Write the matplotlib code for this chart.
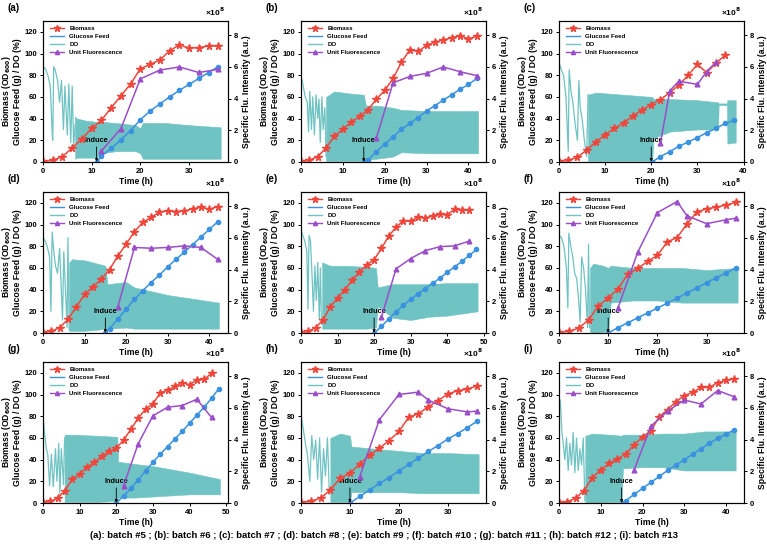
import numpy as np
import matplotlib
matplotlib.use("Agg")
import matplotlib.pyplot as plt
from matplotlib.lines import Line2D

plt.rcParams['font.family'] = ['Liberation Sans', 'DejaVu Sans']
plt.rcParams['font.weight'] = 'bold'
plt.rcParams['axes.labelweight'] = 'bold'
plt.rcParams['axes.linewidth'] = 0.8

# ---- data read off the figure (biomass sampled every 2 h) ----
# (a) batch #5
bio_a = [0.5, 1.5, 5, 13, 21.5, 31, 38.5, 50, 61, 72, 86, 90, 94, 102.5, 108, 105, 105.5, 107, 107]
glu_t_a = [11, 12, 14, 16, 18, 20, 22, 24, 26, 28, 30, 32, 34, 36]
glu_a = [0, 5.5, 12.5, 20.5, 29, 39, 47, 53.5, 60, 66, 71.5, 77, 82.5, 88]
flu_t_a = [12, 16, 20, 24, 28, 32, 36]
flu_a = [0.7, 2.1, 5.25, 5.8, 6.0, 5.65, 5.85]
do_t_a = [0, 0.5, 1.0, 1.5, 1.9, 2.0, 2.2, 2.5, 3.0, 3.4, 3.8, 4.2, 4.5, 5.0, 5.3, 5.7, 6.0, 6.3, 6.6]
do_a = [88, 86, 80, 70, 25, 20, 88, 85, 75, 55, 75, 30, 70, 25, 72, 18, 70, 15, 35]
band_t_a = [6.6, 7, 9, 11, 12, 15, 19, 20, 20.5, 25, 30, 36.5]
band_lo_a = [3, 4, 4, 4, 8, 10, 10, 8, 3, 3, 3, 3]
band_hi_a = [42, 40, 38, 37, 37, 36, 34, 31, 36, 36, 34, 32]

# (b) batch #6
bio_b = [0.5, 1.5, 5, 13, 24, 30, 37, 42, 48, 58, 66, 77, 92, 103.5, 102, 107.5, 110.5, 112.5, 114.5, 116.5, 113.5, 116]
glu_t_b = [15, 16, 18, 20, 22, 24, 26, 28, 30, 32, 34, 36, 38, 40, 42]
glu_b = [0, 2, 9.5, 16.5, 23, 30, 35.5, 41, 47, 52, 57, 62, 67, 71.5, 77]
flu_t_b = [18, 22, 26, 30, 34, 38, 42]
flu_b = [1.5, 5.0, 5.4, 5.6, 6.0, 5.7, 5.45]
do_t_b = [0, 0.3, 1.0, 1.5, 1.8, 2.1, 2.5, 2.8, 3.2, 3.6, 4.0, 4.3, 4.6, 5.0, 5.3, 5.7, 6.0]
do_b = [78, 75, 60, 55, 28, 65, 30, 60, 25, 62, 40, 58, 18, 60, 30, 50, 5]
band_t_b = [6.0, 8, 12, 15, 15.5, 18, 22, 24, 30, 42.3]
band_lo_b = [1, 1, 1, 1, 2, 3, 5, 9, 8, 8]
band_hi_b = [60, 65, 63, 62, 52, 52, 50, 48, 47, 47]

# (c) batch #7
bio_c = [0.5, 1.5, 4.5, 11, 18.5, 25, 31, 36, 42.5, 48, 53, 57.5, 64, 71, 80, 90, 82.5, 91, 98.5]
glu_t_c = [20.2, 22, 24, 26, 28, 30, 32, 34, 36, 38]
glu_c = [0, 5, 9.5, 14.5, 18.5, 22.5, 27, 31, 35.5, 38.5]
flu_t_c = [22, 24, 26, 30, 32, 34]
flu_c = [1.2, 4.5, 5.1, 4.9, 5.7, 6.3]
do_t_c = [0, 0.5, 1.0, 1.5, 2.0, 2.2, 2.6, 3.0, 3.5, 4.0, 4.3, 4.6, 5.0, 5.5, 6.0, 6.3]
do_c = [92, 85, 80, 60, 10, 85, 65, 55, 35, 20, 75, 50, 40, 20, 5, 62]
band_t_c = [6.3, 8, 14, 20.2, 20.5, 24, 30, 34.5, 34.6, 36.4, 36.5, 38.3]
band_lo_c = [1, 1, 1, 1, 22, 28, 30, 30, 52.5, 52.5, 17, 18]
band_hi_c = [62, 64, 62, 60, 58, 58, 57, 55, 54, 54, 57, 57]

# (d) batch #8
bio_d = [0.5, 1.5, 5, 12.5, 24, 35.5, 42.5, 49.5, 58.5, 71, 82, 93.5, 102, 106.5, 111.5, 112.5, 112, 112.5, 114.5, 116, 114, 116.5]
glu_t_d = [15, 16, 18, 20, 22, 24, 26, 28, 30, 32, 34, 36, 38, 40, 42]
glu_d = [0, 4, 13, 22, 31, 39, 46.5, 53.5, 61, 68, 74.5, 81.5, 88.5, 95.5, 102.5]
flu_t_d = [18, 22, 26, 30, 34, 38, 42]
flu_d = [1.65, 5.4, 5.35, 5.4, 5.5, 5.4, 4.65]
do_t_d = [0, 0.5, 1.0, 1.6, 1.9, 2.2, 2.6, 3.0, 3.5, 4.0, 4.4, 4.7, 5.0, 5.4, 5.8, 6.0, 6.3]
do_d = [88, 85, 80, 70, 20, 93, 75, 62, 55, 78, 40, 12, 75, 40, 5, 88, 3]
band_t_d = [6.3, 7, 10, 13, 15, 15.5, 20, 22, 30, 42.3]
band_lo_d = [2, 2, 2, 3, 4, 4, 5, 4, 4, 4]
band_hi_d = [65, 68, 67, 64, 62, 45, 47, 42, 35, 28]

# (e) batch #9
bio_e = [0.5, 1.5, 5, 12, 24, 32.5, 40, 48.5, 56.5, 63, 67.5, 78, 89.5, 97.5, 103.5, 103, 107, 106, 108, 110, 109, 114, 113.5, 113.5]
glu_t_e = [20, 22, 24, 26, 28, 30, 32, 34, 36, 38, 40, 42, 44, 46, 48]
glu_e = [0, 6, 13, 19.5, 25.5, 31, 36, 41, 46, 50.5, 56, 61, 66, 71.5, 77]
flu_t_e = [22, 26, 30, 34, 38, 42, 46]
flu_e = [1.0, 4.05, 4.7, 5.2, 5.45, 5.5, 5.8]
do_t_e = [0, 0.3, 1.0, 1.6, 1.9, 2.2, 2.6, 3.0, 3.4, 3.8, 4.2, 4.6, 5.0, 5.3, 5.6]
do_e = [95, 92, 85, 75, 22, 90, 85, 55, 20, 62, 30, 65, 12, 60, 8]
band_t_e = [5.8, 8, 12, 18, 20.5, 21, 25, 30, 35, 40, 48.3]
band_lo_e = [4, 4, 4, 4, 5, 25, 14, 12, 15, 16, 20]
band_hi_e = [65, 62, 62, 61, 60, 42, 45, 45, 45, 46, 46]

# (f) batch #10
bio_f = [0.5, 1.5, 4.5, 12, 25, 32.5, 40.5, 54.5, 59.5, 66, 71.5, 84, 88, 100.5, 111.5, 114.5, 116, 118, 120.5]
glu_t_f = [10, 12, 14, 16, 18, 20, 22, 24, 26, 28, 30, 32, 34, 36]
glu_f = [0, 5, 9.5, 14, 18.5, 23, 27.5, 32, 37, 41.5, 46.5, 51, 55.5, 60]
flu_t_f = [12, 16, 20, 24, 26, 30, 34, 36]
flu_f = [1.6, 5.1, 7.6, 8.3, 7.4, 6.9, 7.15, 7.25]
do_t_f = [0, 0.5, 1.0, 1.5, 1.8, 2.0, 2.4, 2.8, 3.2, 3.6, 4.0, 4.3, 4.6, 5.0, 5.4, 5.8, 6.0, 6.2]
do_f = [90, 88, 80, 60, 23, 92, 80, 70, 55, 50, 30, 10, 70, 60, 40, 5, 82, 5]
band_t_f = [6.3, 7, 9, 10, 10.5, 15, 20, 25, 30, 36.3]
band_lo_f = [1, 0, 1, 2, 28, 30, 30, 28, 28, 28]
band_hi_f = [60, 64, 62, 60, 62, 60, 60, 60, 58, 60]

# (g) batch #11
bio_g = [0.5, 1.5, 4.5, 11.5, 22, 27, 33, 37.5, 43, 47.5, 50.5, 58, 68, 78.5, 86.5, 91.5, 101.5, 104, 107.5, 111, 109, 113.5, 114, 119.5]
glu_t_g = [20, 22, 24, 26, 28, 30, 32, 34, 36, 38, 40, 42, 44, 46, 48]
glu_g = [0, 6.5, 13.5, 21.5, 29.5, 37.5, 45, 52, 59, 66, 73.5, 81, 88.5, 96.5, 105.5]
flu_t_g = [22, 26, 30, 34, 38, 42, 46]
flu_g = [1.1, 3.75, 5.5, 6.05, 6.15, 6.55, 5.4]
do_t_g = [0, 0.4, 0.9, 1.3, 1.8, 2.3, 2.8, 3.4, 3.8, 4.3, 4.6, 5.0, 5.6, 5.9]
do_g = [80, 65, 50, 45, 16, 45, 15, 50, 20, 55, 8, 50, 17, 60]
band_t_g = [5.9, 8, 15, 20.3, 20.5, 25, 30, 40, 48.3]
band_lo_g = [1, 1, 1, 2, 5, 5, 6, 8, 8]
band_hi_g = [63, 63, 62, 61, 38, 36, 34, 28, 22]

# (h) batch #12
bio_h = [0.5, 1.5, 4.5, 12, 23, 27.5, 36, 44, 50.5, 57.5, 66, 79, 82.5, 88.5, 94.5, 100.5, 103.5, 105, 108]
glu_t_h = [10, 12, 14, 16, 18, 20, 22, 24, 26, 28, 30, 32, 34, 36]
glu_h = [0, 6, 12, 18, 23.5, 29.5, 35.5, 41.5, 47.5, 53, 59, 64, 69.5, 75.5]
flu_t_h = [12, 16, 20, 24, 26, 30, 34, 36]
flu_h = [1.65, 5.25, 6.85, 7.0, 6.5, 5.95, 5.75, 5.8]
do_t_h = [0, 0.4, 0.9, 1.3, 1.8, 2.2, 2.6, 3.0, 3.4, 3.8, 4.2, 4.6, 5.0, 5.4, 5.8]
do_h = [80, 70, 55, 45, 20, 62, 40, 58, 22, 60, 10, 50, 25, 60, 8]
band_t_h = [6.0, 8, 10, 10.3, 15, 20, 25, 30, 36.3]
band_lo_h = [1, 1, 1, 10, 10, 10, 9, 9, 9]
band_hi_h = [60, 64, 62, 52, 50, 48, 46, 46, 45]

# (i) batch #13
bio_i = [0.5, 1, 4.5, 11.5, 23.5, 30.5, 36.5, 40.5, 45.5, 53.5, 61, 66.5, 79.5, 86, 93.5, 99, 102, 106.5, 106.5, 111, 113, 114.5]
glu_t_i = [15, 16, 18, 20, 22, 24, 26, 28, 30, 32, 34, 36, 38, 40, 42]
glu_i = [0, 2, 8, 13.5, 19, 24.5, 30, 35, 40, 45, 50, 55, 59.5, 63.5, 67.5]
flu_t_i = [18, 22, 26, 30, 34, 38, 42]
flu_i = [2.1, 4.85, 5.8, 6.5, 6.25, 7.1, 6.7]
do_t_i = [0, 0.3, 0.7, 1.0, 1.4, 1.8, 2.2, 2.6, 3.0, 3.4, 3.8, 4.2, 4.6, 5.0, 5.4, 5.8, 6.2]
do_i = [85, 95, 65, 55, 40, 60, 30, 55, 35, 65, 28, 60, 30, 50, 35, 60, 2]
band_t_i = [6.3, 8, 12, 15, 15.3, 20, 25, 30, 35, 42.3]
band_lo_i = [1, 0, 1, 1, 32, 33, 33, 30, 30, 30]
band_hi_i = [62, 64, 63, 62, 63, 63, 64, 64, 66, 66]

labels = ['(a)', '(b)', '(c)', '(d)', '(e)', '(f)', '(g)', '(h)', '(i)']
induce = [11, 15, 20, 15, 20, 10, 20, 10, 15]
xmax = [38, 44.2, 40.1, 44.5, 50.6, 37.6, 50.5, 37.8, 44.3]
xticks = [[0, 10, 20, 30], [0, 10, 20, 30, 40], [0, 10, 20, 30, 40],
          [0, 10, 20, 30, 40], [0, 10, 20, 30, 40, 50], [0, 10, 20, 30],
          [0, 10, 20, 30, 40, 50], [0, 10, 20, 30], [0, 10, 20, 30, 40]]
caption = ("(a): batch #5 ; (b): batch #6 ; (c): batch #7 ; (d): batch #8 ; (e): batch #9 ; "
           "(f): batch #10 ; (g): batch #11 ; (h): batch #12 ; (i): batch #13")

panels = [
    (bio_a, glu_t_a, glu_a, flu_t_a, flu_a, do_t_a, do_a, band_t_a, band_lo_a, band_hi_a),
    (bio_b, glu_t_b, glu_b, flu_t_b, flu_b, do_t_b, do_b, band_t_b, band_lo_b, band_hi_b),
    (bio_c, glu_t_c, glu_c, flu_t_c, flu_c, do_t_c, do_c, band_t_c, band_lo_c, band_hi_c),
    (bio_d, glu_t_d, glu_d, flu_t_d, flu_d, do_t_d, do_d, band_t_d, band_lo_d, band_hi_d),
    (bio_e, glu_t_e, glu_e, flu_t_e, flu_e, do_t_e, do_e, band_t_e, band_lo_e, band_hi_e),
    (bio_f, glu_t_f, glu_f, flu_t_f, flu_f, do_t_f, do_f, band_t_f, band_lo_f, band_hi_f),
    (bio_g, glu_t_g, glu_g, flu_t_g, flu_g, do_t_g, do_g, band_t_g, band_lo_g, band_hi_g),
    (bio_h, glu_t_h, glu_h, flu_t_h, flu_h, do_t_h, do_h, band_t_h, band_lo_h, band_hi_h),
    (bio_i, glu_t_i, glu_i, flu_t_i, flu_i, do_t_i, do_i, band_t_i, band_lo_i, band_hi_i),
]

RED = '#F0453A'
BLUE = '#3A92E0'
TEAL = '#6FC3C3'
PURPLE = '#9A4EC9'

W, H = 767, 544
fig = plt.figure(figsize=(W / 100, H / 100), dpi=100)

col_left = [43, 301, 559]
row_top = [21, 192, 362]
aw, ah = 185, 141

for k, p in enumerate(panels):
    bio, gt, gl, ft, fl, dt, dv, bt, blo, bhi = p
    r, c = divmod(k, 3)
    ax = fig.add_axes([col_left[c] / W, 1 - (row_top[r] + ah) / H, aw / W, ah / H])
    ax2 = ax.twinx()

    # DO: spiky start then dense oscillation band
    ax.plot(dt, dv, color=TEAL, lw=0.9, zorder=1)
    ax.fill_between(bt, blo, bhi, color=TEAL, lw=0.4, zorder=1)

    bt_bio = np.arange(len(bio)) * 2
    ax.plot(gt, gl, color=BLUE, lw=1.1, marker='o', ms=3.0, zorder=3)
    ax.plot(bt_bio, bio, color=RED, lw=1.1, marker='*', ms=5.5, zorder=4)
    ax2.plot(ft, fl, color=PURPLE, lw=1.1, marker='^', ms=3.4, zorder=5)

    ax.annotate('Induce', xy=(induce[k], 0.3), xytext=(induce[k], 16.5),
                ha='center', va='bottom', fontsize=5.3, fontweight='bold',
                arrowprops=dict(arrowstyle='-|>', color='k', lw=0.6,
                                mutation_scale=4, shrinkA=0, shrinkB=0))

    ax.set_xlim(0, xmax[k])
    ax.set_ylim(0, 130)
    ax2.set_ylim(0, 8.9)
    ax.set_xticks(xticks[k])
    ax.set_yticks([0, 20, 40, 60, 80, 100, 120])
    ax2.set_yticks([0, 2, 4, 6, 8])
    for a in (ax, ax2):
        a.tick_params(labelsize=5.5, length=2.5, width=0.7, pad=1.5)
        for s in a.spines.values():
            s.set_linewidth(0.8)

    ax.set_xlabel('Time (h)', fontsize=6.2, labelpad=1.5)
    ax.set_ylabel('Biomass (OD$_{\\mathbf{600}}$)\nGlucose Feed (g) / DO (%)',
                  fontsize=6.2, labelpad=2, linespacing=1.0)
    ax2.set_ylabel('Specific Flu. Intensity (a.u.)', fontsize=6.2, labelpad=3)

    ax.text(-0.19, 1.09, labels[k], transform=ax.transAxes, fontsize=7,
            fontweight='bold', ha='left', va='center')
    ax2.text(0.93, 1.065, '×10$^{\\mathbf{8}}$', transform=ax2.transAxes,
             fontsize=6, fontweight='bold', ha='center', va='center')

    handles = [
        Line2D([], [], color=RED, lw=1.0, marker='*', ms=4.5),
        Line2D([], [], color=BLUE, lw=1.0),
        Line2D([], [], color=TEAL, lw=1.0),
        Line2D([], [], color=PURPLE, lw=1.0, marker='^', ms=3),
    ]
    ax2.legend(handles, ['Biomass', 'Glucose Feed', 'DO', 'Unit Fluorescence'],
               loc='upper left', bbox_to_anchor=(0.02, 0.99), frameon=False,
               fontsize=4.4, handlelength=2.3, labelspacing=0.45, handletextpad=0.8,
               borderaxespad=0.2)

fig.text(0.5, 1 - 535 / H, caption, ha='center', va='center', fontsize=6.8,
         fontweight='bold')

fig.savefig('out.png', dpi=100)
